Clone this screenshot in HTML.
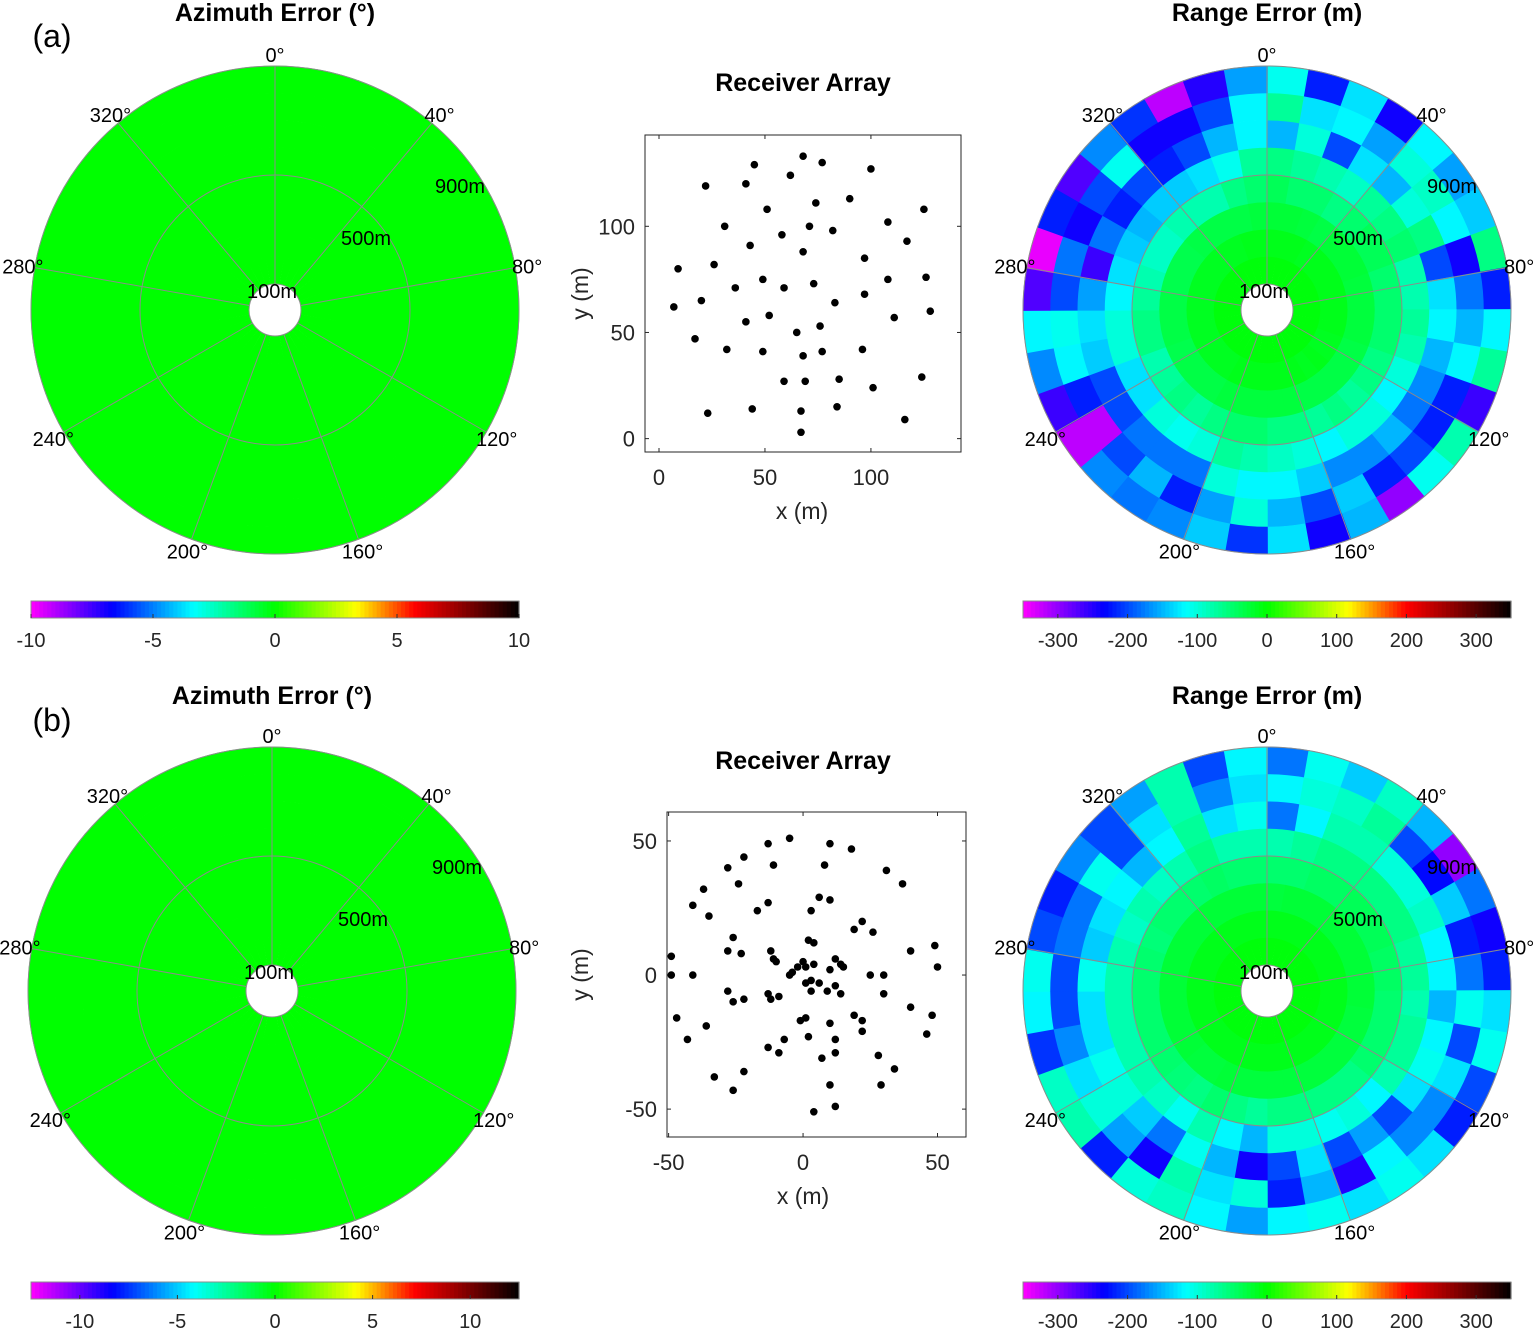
<!DOCTYPE html>
<html><head><meta charset="utf-8">
<style>
html,body{margin:0;padding:0;background:#fff;}
svg{display:block;font-family:"Liberation Sans",Arial,sans-serif;}
</style></head>
<body>
<svg id="root" width="1536" height="1329" viewBox="0 0 1536 1329" xmlns="http://www.w3.org/2000/svg">
<text x="52" y="47" font-size="32" text-anchor="middle" fill="#000">(a)</text>
<text x="52" y="731" font-size="32" text-anchor="middle" fill="#000">(b)</text>
</svg>
<script>
// ---------------- DATA ----------------
var azErrA = [0,0,0,0,0,0,0,0];
var azErrB = [0,0,0,0,0,0,0,0];
var rangeBands = [100,200,300,400,500,600,700,800,900];
var sectorDeg = 10;
var rangeErrA = [
[-5,-12,-25,-40,-60,-150,-70,-110],[-5,-12,-25,-50,-70,-100,-130,-220],[-5,-12,-28,-50,-80,-200,-120,-130],
[-5,-15,-32,-60,-90,-130,-160,-240],[-5,-12,-25,-50,-70,-150,-100,-120],[-5,-12,-25,-40,-60,-100,-90,-160],
[-5,-12,-25,-40,-50,-60,-120,-140],[-5,-12,-28,-50,-80,-200,-240,-60],[-5,-12,-28,-50,-80,-130,-180,-220],
[-5,-12,-28,-50,-70,-120,-150,-120],[-5,-12,-28,-50,-80,-150,-120,-70],[-5,-15,-32,-60,-100,-170,-220,-260],
[-5,-15,-32,-60,-120,-180,-220,-80],[-5,-12,-32,-70,-100,-150,-200,-110],[-5,-15,-32,-60,-100,-170,-220,-300],
[-5,-12,-32,-70,-120,-170,-140,-150],[-5,-12,-28,-60,-100,-140,-200,-240],[-5,-12,-28,-60,-90,-120,-150,-130],
[-5,-12,-28,-50,-80,-120,-100,-210],[-5,-12,-28,-50,-70,-100,-160,-140],[-5,-12,-28,-60,-100,-180,-220,-170],
[-5,-15,-32,-70,-110,-180,-150,-180],[-5,-15,-32,-60,-100,-180,-200,-170],[-5,-15,-32,-70,-130,-200,-320,-320],
[-5,-15,-35,-80,-130,-200,-220,-260],[-5,-15,-32,-60,-100,-140,-120,-170],[-5,-15,-32,-60,-100,-130,-110,-120],
[-5,-15,-32,-70,-120,-160,-200,-270],[-5,-15,-35,-80,-130,-260,-180,-340],[-5,-15,-35,-90,-140,-180,-240,-220],
[-5,-15,-35,-90,-150,-220,-200,-270],[-5,-15,-32,-80,-140,-200,-110,-170],[-5,-15,-32,-80,-140,-220,-240,-210],
[-5,-15,-32,-80,-130,-200,-240,-320],[-5,-12,-32,-60,-110,-150,-200,-250],[-5,-12,-28,-50,-70,-120,-120,-160]];
var rangeErrB = [
[-5,-12,-28,-50,-80,-180,-120,-180],[-5,-12,-25,-50,-70,-120,-100,-110],[-5,-12,-25,-45,-60,-80,-90,-140],
[-5,-12,-25,-45,-60,-80,-70,-90],[-5,-12,-25,-40,-60,-100,-200,-150],[-5,-12,-25,-40,-60,-100,-230,-300],
[-5,-12,-25,-40,-60,-90,-140,-180],[-5,-12,-25,-45,-70,-120,-220,-240],[-5,-12,-25,-45,-70,-120,-180,-220],
[-5,-12,-25,-50,-80,-150,-110,-130],[-5,-12,-28,-50,-70,-120,-200,-110],[-5,-12,-28,-50,-70,-110,-130,-200],
[-5,-12,-28,-50,-80,-130,-170,-220],[-5,-12,-28,-60,-120,-200,-170,-130],[-5,-12,-28,-60,-100,-160,-120,-110],
[-5,-12,-28,-60,-110,-200,-250,-130],[-5,-12,-28,-60,-100,-130,-150,-110],[-5,-12,-28,-60,-100,-200,-220,-120],
[-5,-12,-28,-70,-150,-240,-100,-160],[-5,-12,-28,-60,-120,-150,-130,-120],[-5,-12,-25,-50,-80,-110,-80,-90],
[-5,-12,-28,-60,-110,-180,-240,-100],[-5,-12,-28,-55,-90,-140,-160,-220],[-5,-12,-25,-50,-80,-100,-100,-80],
[-5,-12,-25,-50,-80,-110,-130,-90],[-5,-12,-25,-50,-80,-130,-170,-210],[-5,-12,-25,-50,-80,-130,-200,-120],
[-5,-12,-25,-50,-80,-110,-200,-110],[-5,-12,-25,-50,-80,-140,-180,-200],[-5,-12,-25,-55,-90,-130,-180,-220],
[-5,-12,-25,-50,-80,-120,-110,-170],[-5,-12,-25,-50,-90,-150,-200,-200],[-5,-12,-25,-50,-80,-120,-130,-160],
[-5,-12,-25,-45,-60,-70,-80,-80],[-5,-12,-25,-50,-80,-130,-170,-200],[-5,-12,-25,-50,-80,-110,-130,-120]];
var arrAx = [68,77,45,100,62,22,41,90,74,51,125,108,31,71,82,58,117,43,68,97,26,9,49,73,108,126,36,59,97,83,20,7,52,128,111,41,76,65,17,32,49,77,96,68,85,59,69,124,101,23,44,84,67,116,67];
var arrAy = [133,130,129,127,124,119,120,113,111,108,108,102,100,100,98,96,93,91,88,85,82,80,75,73,75,76,71,71,68,64,65,62,58,60,57,55,53,50,47,42,41,41,42,39,28,27,27,29,24,12,14,15,13,9,3];
var arrBx = [-5,10,18,-13,-22,-11,-28,8,31,-24,-37,37,6,10,-41,-13,-17,-35,3,22,19,26,-26,2,4,40,49,-49,-28,-23,-12,-10,4,-11,0,12,14,-2,-4,1,50,-49,-41,10,15,25,30,-5,3,6,1,3,12,9,14,30,-28,-22,-26,-13,-9,-12,40,19,48,-47,-36,10,1,-1,22,22,-43,-7,-13,2,12,12,28,46,-9,7,-22,-33,34,-26,29,10,12,4];
var arrBy = [51,49,47,49,44,41,40,41,39,34,32,34,29,28,26,27,24,22,24,20,17,16,14,13,12,9,11,7,9,8,9,5,4,6,5,6,4,3,1,3,3,0,0,2,3,0,0,0,-2,-3,-3,-6,-4,-6,-7,-7,-6,-9,-10,-7,-8,-9,-12,-15,-15,-16,-19,-18,-16,-17,-17,-21,-24,-24,-27,-23,-24,-29,-30,-22,-29,-31,-36,-38,-35,-43,-41,-41,-49,-51];
var azTicks = [-10,-5,0,5,10];
var rgTicks = [-300,-200,-100,0,100,200,300];
var angleTicks = [0,40,80,120,160,200,240,280,320];
var ringTicks = [100,500,900];
var arrATicks = [0,50,100];
var arrBTicks = [-50,0,50];

// ---------------- RENDER ----------------
var NS = "http://www.w3.org/2000/svg";
var root = document.getElementById('root');
function mk(tag, attrs, parent){var e=document.createElementNS(NS,tag);for(var k in attrs)e.setAttribute(k,attrs[k]);(parent||root).appendChild(e);return e;}
function txt(x,y,s,size,anchor,parent,weight,fill){var t=mk('text',{x:x,y:y,'font-size':size,'text-anchor':anchor||'middle',fill:fill||'#000'},parent);if(weight)t.setAttribute('font-weight',weight);t.textContent=s;return t;}

var stops=[[-1,[255,0,255]],[-0.6667,[0,0,255]],[-0.3333,[0,255,255]],[0,[0,255,0]],[0.3333,[255,255,0]],[0.5714,[255,0,0]],[1,[0,0,0]]];
function cmap(v,vmax){var t=Math.max(-1,Math.min(1,v/vmax));for(var i=0;i<stops.length-1;i++){if(t<=stops[i+1][0]){var a=stops[i],b=stops[i+1],f=(t-a[0])/(b[0]-a[0]);var c=a[1].map(function(x,j){return Math.round(x+(b[1][j]-x)*f);});return 'rgb('+c.join(',')+')';}}return 'rgb(0,0,0)';}

function rad(R){return 26+(R-100)*(218/800);}
function pt(cx,cy,r,deg){var a=deg*Math.PI/180;return [cx+r*Math.sin(a),cy-r*Math.cos(a)];}
function sectorPath(cx,cy,r1,r2,a1,a2){var p1=pt(cx,cy,r1,a1),p2=pt(cx,cy,r2,a1),p3=pt(cx,cy,r2,a2),p4=pt(cx,cy,r1,a2);
return 'M'+p1[0]+','+p1[1]+'L'+p2[0]+','+p2[1]+'A'+r2+','+r2+' 0 0 1 '+p3[0]+','+p3[1]+'L'+p4[0]+','+p4[1]+'A'+r1+','+r1+' 0 0 0 '+p1[0]+','+p1[1]+'Z';}

var ringLabelOff = {100:[-3,-12], 500:[91,-65], 900:[185,-117]};

function polar(cx,cy,getVal,vmax,name,title,ty){
  var g=mk('g',{});
  
  
  var nS=360/sectorDeg;
  for(var s=0;s<nS;s++){for(var b=0;b<rangeBands.length-1;b++){
    var p=mk('path',{d:sectorPath(cx,cy,rad(rangeBands[b]),rad(rangeBands[b+1])+0.4,s*sectorDeg-0.2,(s+1)*sectorDeg+0.2),fill:cmap(getVal(s,b),vmax)},g);
    
    
  }}
  ringTicks.forEach(function(R){var c=mk('circle',{cx:cx,cy:cy,r:rad(R),fill:'none',stroke:'#8c8c8c','stroke-width':1},g);
    
    });
  angleTicks.forEach(function(A){var p1=pt(cx,cy,rad(100),A),p2=pt(cx,cy,rad(900),A);
    var l=mk('line',{x1:p1[0],y1:p1[1],x2:p2[0],y2:p2[1],stroke:'#8c8c8c','stroke-width':1},g);
    
    
    var lp=pt(cx,cy,rad(900)+12,A);
    var t=txt(lp[0],lp[1]+8,A+'°',20,'middle',g);
    
    });
  ringTicks.forEach(function(R){var o=ringLabelOff[R];
    var t=txt(cx+o[0],cy+o[1],R+'m',20,'middle',g);
    
    });
  var tt=txt(cx,ty,title,25,'middle',g,'bold');
  
  
}

function colorbar(x0,x1,y,vmax,ticks,name){
  var g=mk('g',{});
  
  
  var n=120,w=(x1-x0)/n;
  for(var i=0;i<n;i++){var v=-vmax+(i+0.5)*(2*vmax/n);
    var r=mk('rect',{x:x0+i*w,y:y,width:w+0.6,height:17,fill:cmap(v,vmax)},g);
    
    }
  mk('rect',{x:x0,y:y,width:x1-x0,height:17,fill:'none',stroke:'#8c8c8c','stroke-width':1},g);
  ticks.forEach(function(tv){var x=x0+(tv+vmax)/(2*vmax)*(x1-x0);
    mk('line',{x1:x,y1:y+17,x2:x,y2:y+13,stroke:'#333','stroke-width':1},g);
    var t=txt(x,y+46,String(tv),20,'middle',g,null,'#262626');
    
    });
}

function scatter(box,xr,yr,xs,ys,xt,yt,name,title,titleY,cxLabel){
  var g=mk('g',{});
  
  
  function X(v){return box.x+(v-xr[0])/(xr[1]-xr[0])*box.w;}
  function Y(v){return box.y+box.h-(v-yr[0])/(yr[1]-yr[0])*box.h;}
  mk('rect',{x:box.x,y:box.y,width:box.w,height:box.h,fill:'#fff',stroke:'#262626','stroke-width':1},g);
  xt.forEach(function(v){var x=X(v);mk('line',{x1:x,y1:box.y+box.h,x2:x,y2:box.y+box.h-4,stroke:'#262626'},g);mk('line',{x1:x,y1:box.y,x2:x,y2:box.y+4,stroke:'#262626'},g);
    var t=txt(x,box.y+box.h+33,String(v),22,'middle',g,null,'#262626');
    
    });
  yt.forEach(function(v){var y=Y(v);mk('line',{x1:box.x,y1:y,x2:box.x+4,y2:y,stroke:'#262626'},g);mk('line',{x1:box.x+box.w,y1:y,x2:box.x+box.w-4,y2:y,stroke:'#262626'},g);
    var t=txt(box.x-10,y+8,String(v),22,'end',g,null,'#262626');
    
    });
  for(var i=0;i<xs.length;i++){var c=mk('circle',{cx:X(xs[i]),cy:Y(ys[i]),r:3.8,fill:'#000'},g);
    
    }
  var xl=txt(cxLabel,box.y+box.h+67,'x (m)',23,'middle',g,null,'#262626');
  
  
  var yl=txt(0,0,'y (m)',23,'middle',g,null,'#262626');
  yl.setAttribute('transform','translate(588,'+(box.y+box.h/2)+') rotate(-90)');
  
  
  var tt=txt(803,titleY,title,25,'middle',g,'bold');
  
  
}

polar(275,310,function(s,b){return azErrA[b];},10,'azimuth-error-polar-a','Azimuth Error (°)',21);
polar(1267,310,function(s,b){return rangeErrA[s][b];},350,'range-error-polar-a','Range Error (m)',21);
polar(272,991,function(s,b){return azErrB[b];},12.5,'azimuth-error-polar-b','Azimuth Error (°)',704);
polar(1267,991,function(s,b){return rangeErrB[s][b];},350,'range-error-polar-b','Range Error (m)',704);
colorbar(31,519,601,10,azTicks,'azimuth-colorbar-a');
colorbar(1023,1511,601,350,rgTicks,'range-colorbar-a');
colorbar(31,519,1282,12.5,[-10,-5,0,5,10],'azimuth-colorbar-b');
colorbar(1023,1511,1282,350,rgTicks,'range-colorbar-b');
scatter({x:645,y:135,w:316,h:317},[-6.6,142.5],[-6.3,143],arrAx,arrAy,arrATicks,arrATicks,'receiver-array-a','Receiver Array',91,802);
scatter({x:667,y:812,w:299,h:325},[-50.6,60.6],[-60.4,60.8],arrBx,arrBy,arrBTicks,arrBTicks,'receiver-array-b','Receiver Array',769,803);
</script>
</body></html>
